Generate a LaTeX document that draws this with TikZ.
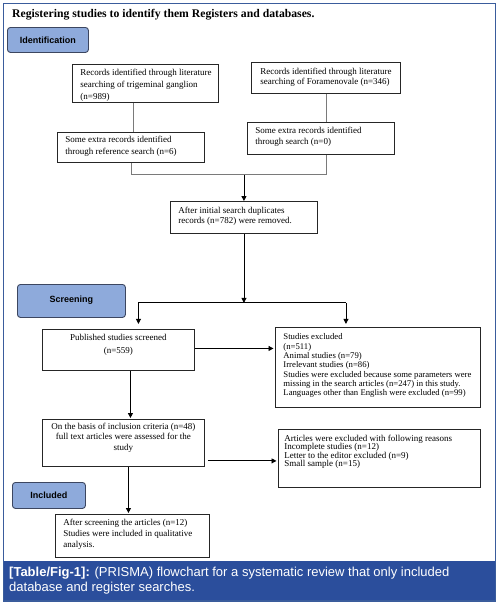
\documentclass[tikz,border=0pt]{standalone}
\usepackage{fontspec}
\setmainfont{Liberation Serif}
\setsansfont{Liberation Sans}
\usetikzlibrary{arrows.meta,calc}
\definecolor{framec}{HTML}{3A5C9C}
\definecolor{capc}{HTML}{2B4E9C}
\definecolor{stagec}{HTML}{8EAADB}
\definecolor{stageb}{HTML}{3C4660}
\definecolor{joinc}{HTML}{7A7A7A}
\newcommand\bxt[6]{\parbox[c][#2][t]{#1}{\fontsize{9}{#5}\selectfont\parindent0pt #4\rule{0pt}{#3}#6}}
\newcommand\Lft[1]{\raggedright\leftskip=#1\relax}
\tikzset{
  box/.style={draw=black!85, line width=0.9pt, inner sep=0pt, anchor=north west},
  stage/.style={draw=stageb, fill=stagec, line width=0.9pt, rounded corners=3pt, anchor=north west, inner sep=0pt, font=\sffamily\bfseries\fontsize{9}{10}\selectfont, align=center},
  arr/.style={draw=black, line width=0.9pt, -{Triangle[length=5pt,width=5pt]}},
  grayline/.style={draw=joinc, line width=0.9pt},
  plain/.style={draw=black, line width=0.9pt}
}
\begin{document}
\begin{tikzpicture}[x=1pt,y=-1pt]
\useasboundingbox (0,0) rectangle (499,606);
\fill[white] (0,0) rectangle (499,606);
\fill[capc] (3,561) rectangle (496,601.5);
\draw[framec, line width=1.5pt] (3.5,3.5) rectangle (495.5,601);

\node[anchor=base west, inner sep=0pt, font=\bfseries\fontsize{11.7}{13}\selectfont] (title) at (12,17.5) {Registering studies to identify them Registers and databases.};

\node[stage, minimum width=81pt, minimum height=25pt] (sid) at (7,27) {Identification};
\node[stage, minimum width=108pt, minimum height=33pt] (sscr) at (17,284) {Screening\rule[-4pt]{0pt}{1pt}};
\node[stage, minimum width=73pt, minimum height=26pt] (sinc) at (12,482) {Included};

\node[box] (A) at (72,64) {\bxt{146pt}{38pt}{11pt}{\Lft{8pt}}{12pt}{Records identified through literature\\searching of trigeminal ganglion\\(n=989)}};
\node[box] (B) at (251,62) {\bxt{149pt}{31pt}{12pt}{\Lft{9pt}}{10pt}{Records identified through literature\\searching of Foramenovale (n=346)}};
\node[box] (C) at (57,132) {\bxt{147pt}{30pt}{10pt}{\Lft{8pt}}{12pt}{Some extra records identified\\through reference search (n=6)}};
\node[box] (D) at (247,122) {\bxt{147pt}{32pt}{11pt}{\Lft{8pt}}{11.5pt}{Some extra records identified\\through search (n=0)}};
\node[box] (E) at (170,201) {\bxt{147pt}{32pt}{12pt}{\Lft{8pt}}{10pt}{After initial search duplicates\\records (n=782) were removed.}};
\node[box] (F) at (42,329) {\bxt{152pt}{41pt}{11pt}{\centering}{13pt}{Published studies screened\\(n=559)}};
\node[box] (G) at (275,327) {\bxt{205pt}{80pt}{12.5pt}{\Lft{8pt}}{9.3pt}{\fontsize{8.7}{9.3}\selectfont Studies excluded\\(n=511)\\Animal studies (n=79)\\Irrelevant studies (n=86)\\Studies were excluded because some parameters were\\missing in the search articles (n=247) in this study.\\Languages other than English were excluded (n=99)}};
\node[box] (H) at (42,419) {\bxt{162pt}{47pt}{10pt}{\centering}{10.3pt}{On the basis of inclusion criteria (n=48)\\full text articles were assessed for the\\study}};
\node[box] (I) at (278,429) {\bxt{202pt}{58pt}{12pt}{\Lft{6pt}}{8.3pt}{Articles were excluded with following reasons\\Incomplete studies (n=12)\\Letter to the editor excluded (n=9)\\Small sample (n=15)}};
\node[box] (J) at (55,514) {\bxt{154pt}{43pt}{11pt}{\Lft{8pt}}{10.8pt}{After screening the articles (n=12)\\Studies were included in qualitative\\analysis.}};

\coordinate (a1) at ($(A.south west)!0.418!(A.south east)$);
\draw[grayline] (a1) -- (a1 |- C.north);
\draw[grayline] (B.south) -- (B.south |- D.north);
\coordinate (jm) at ($(C.south)+(0,12)$);
\draw[grayline] (C.south) -- (jm) -| (B.south |- D.south);
\draw[arr] (E.north |- jm) -- (E.north);

\coordinate (sp) at ($(E.south)+(0,69)$);
\draw[arr] (E.south) -- (sp);
\coordinate (sl) at ($(sp -| F.north)+(20,0)$);
\coordinate (sr) at ($(sp -| G.north)+(-32,0)$);
\draw[plain] (sl) -- (sr);
\draw[arr] (sl) -- ($(sl)+(0,21)$);
\draw[arr] (sr) -- ($(sr)+(0,21)$);

\coordinate (fg) at ($(F.east)+(0,-1.5)$);
\draw[arr, shorten >=1.5pt] (fg) -- (fg -| G.west);
\coordinate (fh) at ($(F.south)+(12,0)$);
\draw[arr, shorten >=1pt] (fh) -- (fh |- H.north);
\coordinate (hi) at ($(H.south east)+(3,-6)$);
\draw[arr, shorten >=1.5pt] (hi) -- (hi -| I.west);
\coordinate (hj) at ($(H.south)+(5,0)$);
\draw[arr, shorten >=1pt] (hj) -- (hj |- J.north);

\node[anchor=north west, inner sep=0pt, text=white] (cap) at (9,561) {\parbox[t]{485pt}{\sffamily\fontsize{13}{15}\selectfont\rule{0pt}{15pt}\textbf{[Table/Fig-1]:} (PRISMA) flowchart for a systematic review that only included\\database and register searches.}};
\end{tikzpicture}
\end{document}
